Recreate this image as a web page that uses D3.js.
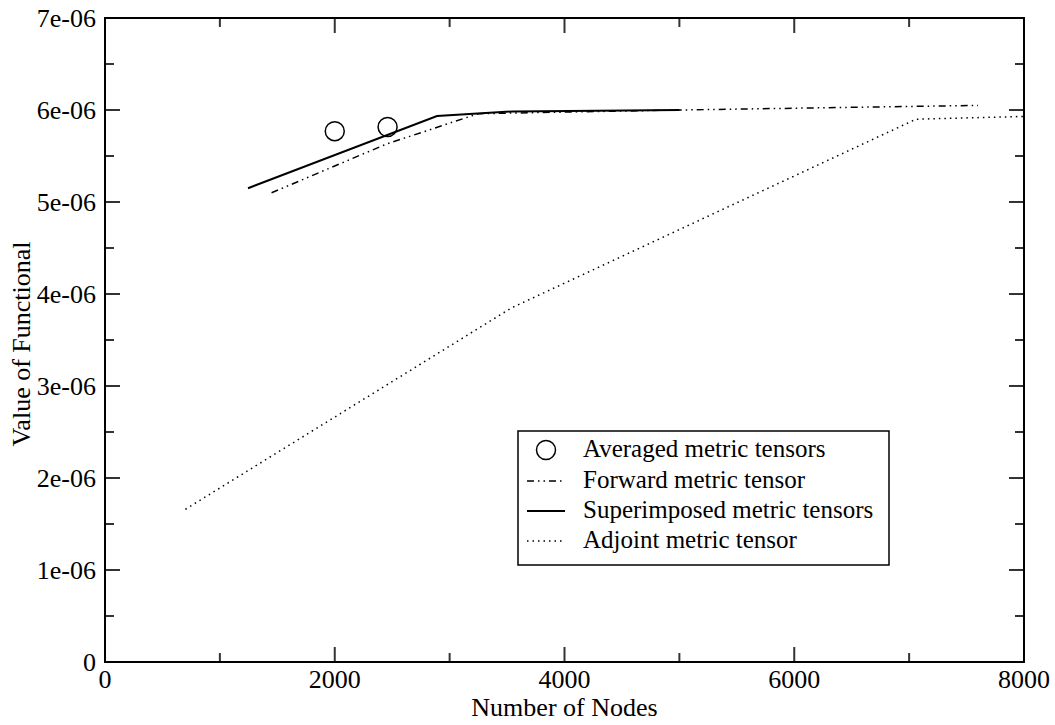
<!DOCTYPE html>
<html>
<head>
<meta charset="utf-8">
<script src="https://cdn.jsdelivr.net/npm/d3@7"></script>
<style>
  body { margin: 0; background: white; }
  text { font-family: "Liberation Serif", "Times New Roman", serif; fill: black; }
</style>
</head>
<body>
<div id="chart"></div>
<script>
// data (x = nodes, y = functional value)
var averagedNodes = [2000, 2460];
var averagedValues = [5.77e-6, 5.815e-6];

var forwardNodes = [1450, 2450, 3250, 5000, 7600];
var forwardValues = [5.10e-6, 5.63e-6, 5.96e-6, 6.0e-6, 6.05e-6];

var superNodes = [1245, 2890, 3550, 5000];
var superValues = [5.15e-6, 5.935e-6, 5.985e-6, 6.0e-6];

var adjointNodes = [700, 3540, 7060, 8000];
var adjointValues = [1.66e-6, 3.85e-6, 5.90e-6, 5.93e-6];

var xTicks = [0, 2000, 4000, 6000, 8000];
var yTicks = [0, 1e-6, 2e-6, 3e-6, 4e-6, 5e-6, 6e-6, 7e-6];
var yTickLabels = ['0', '1e-06', '2e-06', '3e-06', '4e-06', '5e-06', '6e-06', '7e-06'];

var legendLabels = ['Averaged metric tensors', 'Forward metric tensor',
  'Superimposed metric tensors', 'Adjoint metric tensor'];

var drawChart = function(){
  var width = 1055, height = 725;
  var plotLeft = 105, plotRight = 1024, plotTop = 18, plotBottom = 662;

  var svg = d3.select('#chart').append('svg')
    .attr('width', width)
    .attr('height', height);

  var x = d3.scaleLinear().domain([0, 8000]).range([plotLeft, plotRight]);
  var y = d3.scaleLinear().domain([0, 7e-6]).range([plotBottom, plotTop]);

  var zip = function(xs, ys){
    return xs.map(function(v, i){ return [v, ys[i]]; });
  };

  var line = d3.line()
    .x(function(d){ return x(d[0]); })
    .y(function(d){ return y(d[1]); });

  // ticks on all four sides, pointing in
  var majorLen = 15, minorLen = 9;
  var tickG = svg.append('g').attr('stroke', '#333').attr('stroke-width', 2);
  d3.range(0, 8001, 1000).forEach(function(v){
    var len = (v % 2000 === 0) ? majorLen : minorLen;
    tickG.append('line').attr('x1', x(v)).attr('x2', x(v)).attr('y1', plotBottom).attr('y2', plotBottom - len);
    tickG.append('line').attr('x1', x(v)).attr('x2', x(v)).attr('y1', plotTop).attr('y2', plotTop + len);
  });
  d3.range(0, 15).forEach(function(i){
    var v = i * 0.5e-6;
    var len = (i % 2 === 0) ? majorLen : minorLen;
    tickG.append('line').attr('x1', plotLeft).attr('x2', plotLeft + len).attr('y1', y(v)).attr('y2', y(v));
    tickG.append('line').attr('x1', plotRight).attr('x2', plotRight - len).attr('y1', y(v)).attr('y2', y(v));
  });

  // frame
  svg.append('rect')
    .attr('x', plotLeft).attr('y', plotTop)
    .attr('width', plotRight - plotLeft).attr('height', plotBottom - plotTop)
    .attr('fill', 'none').attr('stroke', 'black').attr('stroke-width', 2);

  // tick labels
  svg.selectAll('.xlab').data(xTicks).enter().append('text')
    .attr('class', 'xlab')
    .attr('x', function(d){ return x(d); })
    .attr('y', 688)
    .attr('text-anchor', 'middle')
    .style('font-size', '26px')
    .text(function(d){ return d; });

  svg.selectAll('.ylab').data(yTicks).enter().append('text')
    .attr('class', 'ylab')
    .attr('x', 96)
    .attr('y', function(d){ return y(d) + 9; })
    .attr('text-anchor', 'end')
    .style('font-size', '26px')
    .text(function(d, i){ return yTickLabels[i]; });

  svg.append('text')
    .attr('x', x(4000)).attr('y', 716)
    .attr('text-anchor', 'middle')
    .style('font-size', '26px')
    .text('Number of Nodes');

  svg.append('text')
    .attr('transform', 'translate(30,344) rotate(-90)')
    .attr('text-anchor', 'middle')
    .style('font-size', '26px')
    .text('Value of Functional');

  // series styles: circles, dash-dot-dot, solid, dotted
  var styles = [
    {dash: null, width: 0},
    {dash: '7,4,1.5,4,1.5,4', width: 1.5},
    {dash: null, width: 2},
    {dash: '1.5,4', width: 1.5}
  ];

  svg.append('clipPath').attr('id', 'plotclip').append('rect')
    .attr('x', plotLeft).attr('y', plotTop)
    .attr('width', plotRight - plotLeft).attr('height', plotBottom - plotTop);

  var plot = svg.append('g').attr('clip-path', 'url(#plotclip)');

  plot.append('path')
    .datum(zip(adjointNodes, adjointValues))
    .attr('d', line)
    .attr('fill', 'none').attr('stroke', 'black')
    .attr('stroke-width', styles[3].width).attr('stroke-dasharray', styles[3].dash);

  plot.append('path')
    .datum(zip(forwardNodes, forwardValues))
    .attr('d', line)
    .attr('fill', 'none').attr('stroke', 'black')
    .attr('stroke-width', styles[1].width).attr('stroke-dasharray', styles[1].dash);

  plot.append('path')
    .datum(zip(superNodes, superValues))
    .attr('d', line)
    .attr('fill', 'none').attr('stroke', 'black')
    .attr('stroke-width', styles[2].width);

  plot.selectAll('.avg').data(zip(averagedNodes, averagedValues)).enter().append('circle')
    .attr('class', 'avg')
    .attr('cx', function(d){ return x(d[0]); })
    .attr('cy', function(d){ return y(d[1]); })
    .attr('r', 9.5)
    .attr('fill', 'none').attr('stroke', 'black').attr('stroke-width', 1.5);

  // legend
  var legend = svg.append('g');
  legend.append('rect')
    .attr('x', 518).attr('y', 431).attr('width', 371).attr('height', 134)
    .attr('fill', 'white').attr('stroke', 'black').attr('stroke-width', 1.5);

  var rowY = [450, 481, 511, 541];
  legendLabels.forEach(function(label, i){
    if (i === 0) {
      legend.append('circle')
        .attr('cx', 546).attr('cy', rowY[i]).attr('r', 9.5)
        .attr('fill', 'none').attr('stroke', 'black').attr('stroke-width', 1.5);
    } else {
      legend.append('line')
        .attr('x1', 527).attr('x2', 565).attr('y1', rowY[i]).attr('y2', rowY[i])
        .attr('stroke', 'black')
        .attr('stroke-width', styles[i].width)
        .attr('stroke-dasharray', styles[i].dash);
    }
    legend.append('text')
      .attr('x', 583).attr('y', rowY[i] + 7)
      .style('font-size', '25px')
      .text(label);
  });
};

drawChart();
</script>
</body>
</html>
